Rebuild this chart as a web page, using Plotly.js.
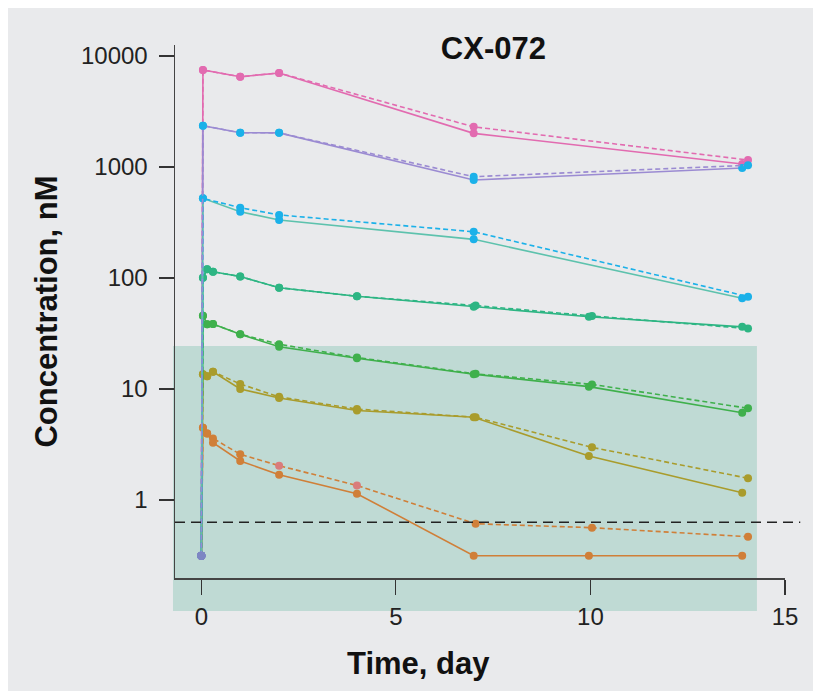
<!DOCTYPE html>
<html>
<head>
<meta charset="utf-8">
<script src="https://cdn.plot.ly/plotly-3.0.1.min.js"></script>
<style>
  html, body { margin: 0; padding: 0; background: #ffffff; }
  #chart { position: absolute; left: 8px; top: 8px; width: 805px; height: 683px; }
</style>
</head>
<body>
<div id="chart"></div>
<script>
// ---- data ----
const BLQ = 0.315;            // plotted value for below-limit samples
const LLOQ = 0.63;            // dashed threshold line
const SHADE_TOP = 24.4;       // upper edge of shaded band (nM)

const tShortSolid  = [0, 0.042, 1, 2, 7, 13.9];
const tShortDashed = [0, 0.042, 1, 2, 7, 14.05];
const tLongSolid   = [0, 0.042, 0.15, 0.3, 1, 2, 4, 7, 9.96, 13.9];
const tLongDashed  = [0, 0.042, 0.15, 0.3, 1, 2, 4, 7.05, 10.04, 14.05];

const pinkSolid    = [BLQ, 7480, 6500, 7030, 2010, 1064];
const pinkDashed   = [BLQ, 7480, 6500, 7030, 2300, 1156];
const purpleSolid  = [BLQ, 2355, 2036, 2030, 764, 980];
const purpleDashed = [BLQ, 2355, 2036, 2030, 818, 1036];
const blueSolid    = [BLQ, 522, 395, 333, 223, 65.6];
const blueDashed   = [BLQ, 522, 430, 370, 261, 67.9];
const tealSolid    = [BLQ, 100.6, 120, 114, 103, 81.8, 68.4, 55.2, 44.8, 36.3];
const tealDashed   = [BLQ, 100.6, 120, 114, 103, 81.8, 68.4, 56.5, 45.5, 35.0];
const greenSolid   = [BLQ, 45.8, 38.3, 38.5, 31.1, 24.0, 18.9, 13.6, 10.5, 6.12];
const greenDashed  = [BLQ, 45.8, 38.3, 38.5, 31.1, 25.3, 19.2, 13.7, 11.0, 6.7];
const oliveSolid   = [BLQ, 13.6, 13.0, 14.3, 10.0, 8.3, 6.4, 5.56, 2.49, 1.16];
const oliveDashed  = [BLQ, 13.6, 13.0, 14.3, 11.1, 8.5, 6.6, 5.56, 2.98, 1.57];
const orangeSolid  = [BLQ, 4.48, 3.98, 3.28, 2.25, 1.69, 1.14, BLQ, BLQ, BLQ];
const orangeDashed = [BLQ, 4.48, 3.98, 3.59, 2.58, 2.04, 1.35, 0.611, 0.563, 0.467];

const xTicks = [0, 5, 10, 15];
const yTicks = [1, 10, 100, 1000, 10000];
const yTickText = ['1', '10', '100', '1000', '10000'];

// ---- styles ----
const C = {
  pink: '#e26bb0', purple: '#9b8bd2', blue: '#1bb1e9', tealLine: '#5dc2ad',
  teal: '#2db583', green: '#3fb04c', olive: '#a99c2c', orange: '#d07f38',
  salmon: '#d97c7c', base: '#7d86c3'
};

function mk(x, y, lineColor, markerColor, dashed, special) {
  const mc = y.map((v, i) => (i === 0 ? C.base : markerColor));
  if (special) special.forEach(i => { mc[i] = C.salmon; });
  return {
    type: 'scatter', mode: 'lines+markers', x: x, y: y,
    line: { color: lineColor, width: 1.6, dash: dashed ? '5px,3px' : 'solid' },
    marker: { color: mc, size: 8 },
    showlegend: false, hoverinfo: 'x+y', cliponaxis: false
  };
}

const traces = [
  mk(tShortSolid, pinkSolid, C.pink, C.pink, false),
  mk(tShortDashed, pinkDashed, C.pink, C.pink, true),
  mk(tLongDashed, orangeDashed, C.orange, C.orange, true, [5, 6]),
  mk(tLongSolid, orangeSolid, C.orange, C.orange, false),
  mk(tLongDashed, oliveDashed, C.olive, C.olive, true),
  mk(tLongSolid, oliveSolid, C.olive, C.olive, false),
  mk(tLongDashed, greenDashed, C.green, C.green, true),
  mk(tLongSolid, greenSolid, C.green, C.green, false),
  mk(tLongDashed, tealDashed, C.teal, C.teal, true),
  mk(tLongSolid, tealSolid, C.teal, C.teal, false),
  mk(tShortSolid, purpleSolid, C.purple, C.blue, false),
  mk(tShortSolid, blueSolid, C.tealLine, C.blue, false),
  mk(tShortDashed, blueDashed, C.blue, C.blue, true),
  mk(tShortDashed, purpleDashed, C.purple, C.blue, true)
];

const W = 805, H = 683;
const layout = {
  width: W, height: H,
  paper_bgcolor: '#e9eaec', plot_bgcolor: 'rgba(0,0,0,0)',
  margin: { l: 167, r: 28, t: 37, b: 113 },
  font: { family: 'Liberation Sans, Arial, sans-serif', color: '#1a1a1a' },
  title: {
    text: '<b>CX-072</b>', font: { size: 31, color: '#111' },
    xref: 'paper', x: 0.522, xanchor: 'center',
    yref: 'container', y: 1 - 40 / H, yanchor: 'middle'
  },
  xaxis: {
    type: 'linear', range: [-0.676, 15.0],
    tickvals: xTicks, ticktext: xTicks.map(String),
    ticks: 'outside', ticklen: 15, tickwidth: 1.2, tickcolor: '#333',
    showline: true, linecolor: '#444', linewidth: 1.5,
    showgrid: false, zeroline: false,
    tickfont: { size: 24, color: '#222' }, ticklabelstandoff: 2
  },
  yaxis: {
    type: 'log', range: [-0.7027, 4.099],
    tickvals: yTicks, ticktext: yTickText,
    ticks: 'outside', ticklen: 15, tickwidth: 1.2, tickcolor: '#333',
    showline: true, linecolor: '#444', linewidth: 1.5,
    showgrid: false, zeroline: false,
    tickfont: { size: 24, color: '#222' }, ticklabelstandoff: 6,
    title: { text: '<b>Concentration, nM</b>', font: { size: 31, color: '#111' }, standoff: 14 }
  },
  shapes: [
    { type: 'rect', layer: 'below', xref: 'paper', yref: 'paper',
      x0: -0.0033, x1: 0.954, y0: -0.062, y1: (Math.log10(SHADE_TOP) + 0.7027) / 4.8017,
      fillcolor: '#bfdad4', line: { width: 0 } },
    { type: 'line', layer: 'above', xref: 'paper', yref: 'y',
      x0: 0, x1: 1.025, y0: LLOQ, y1: LLOQ,
      line: { color: '#222', width: 1.5, dash: '10px,6px' } }
  ],
  annotations: [
    { text: '<b>Time, day</b>', xref: 'paper', yref: 'paper',
      x: (418 - 175) / 610, y: -(663 - 578) / 533, xanchor: 'center', yanchor: 'middle',
      showarrow: false, font: { size: 31, color: '#111' } }
  ]
};

Plotly.newPlot('chart', traces, layout, { displayModeBar: false, staticPlot: true });
</script>
</body>
</html>
